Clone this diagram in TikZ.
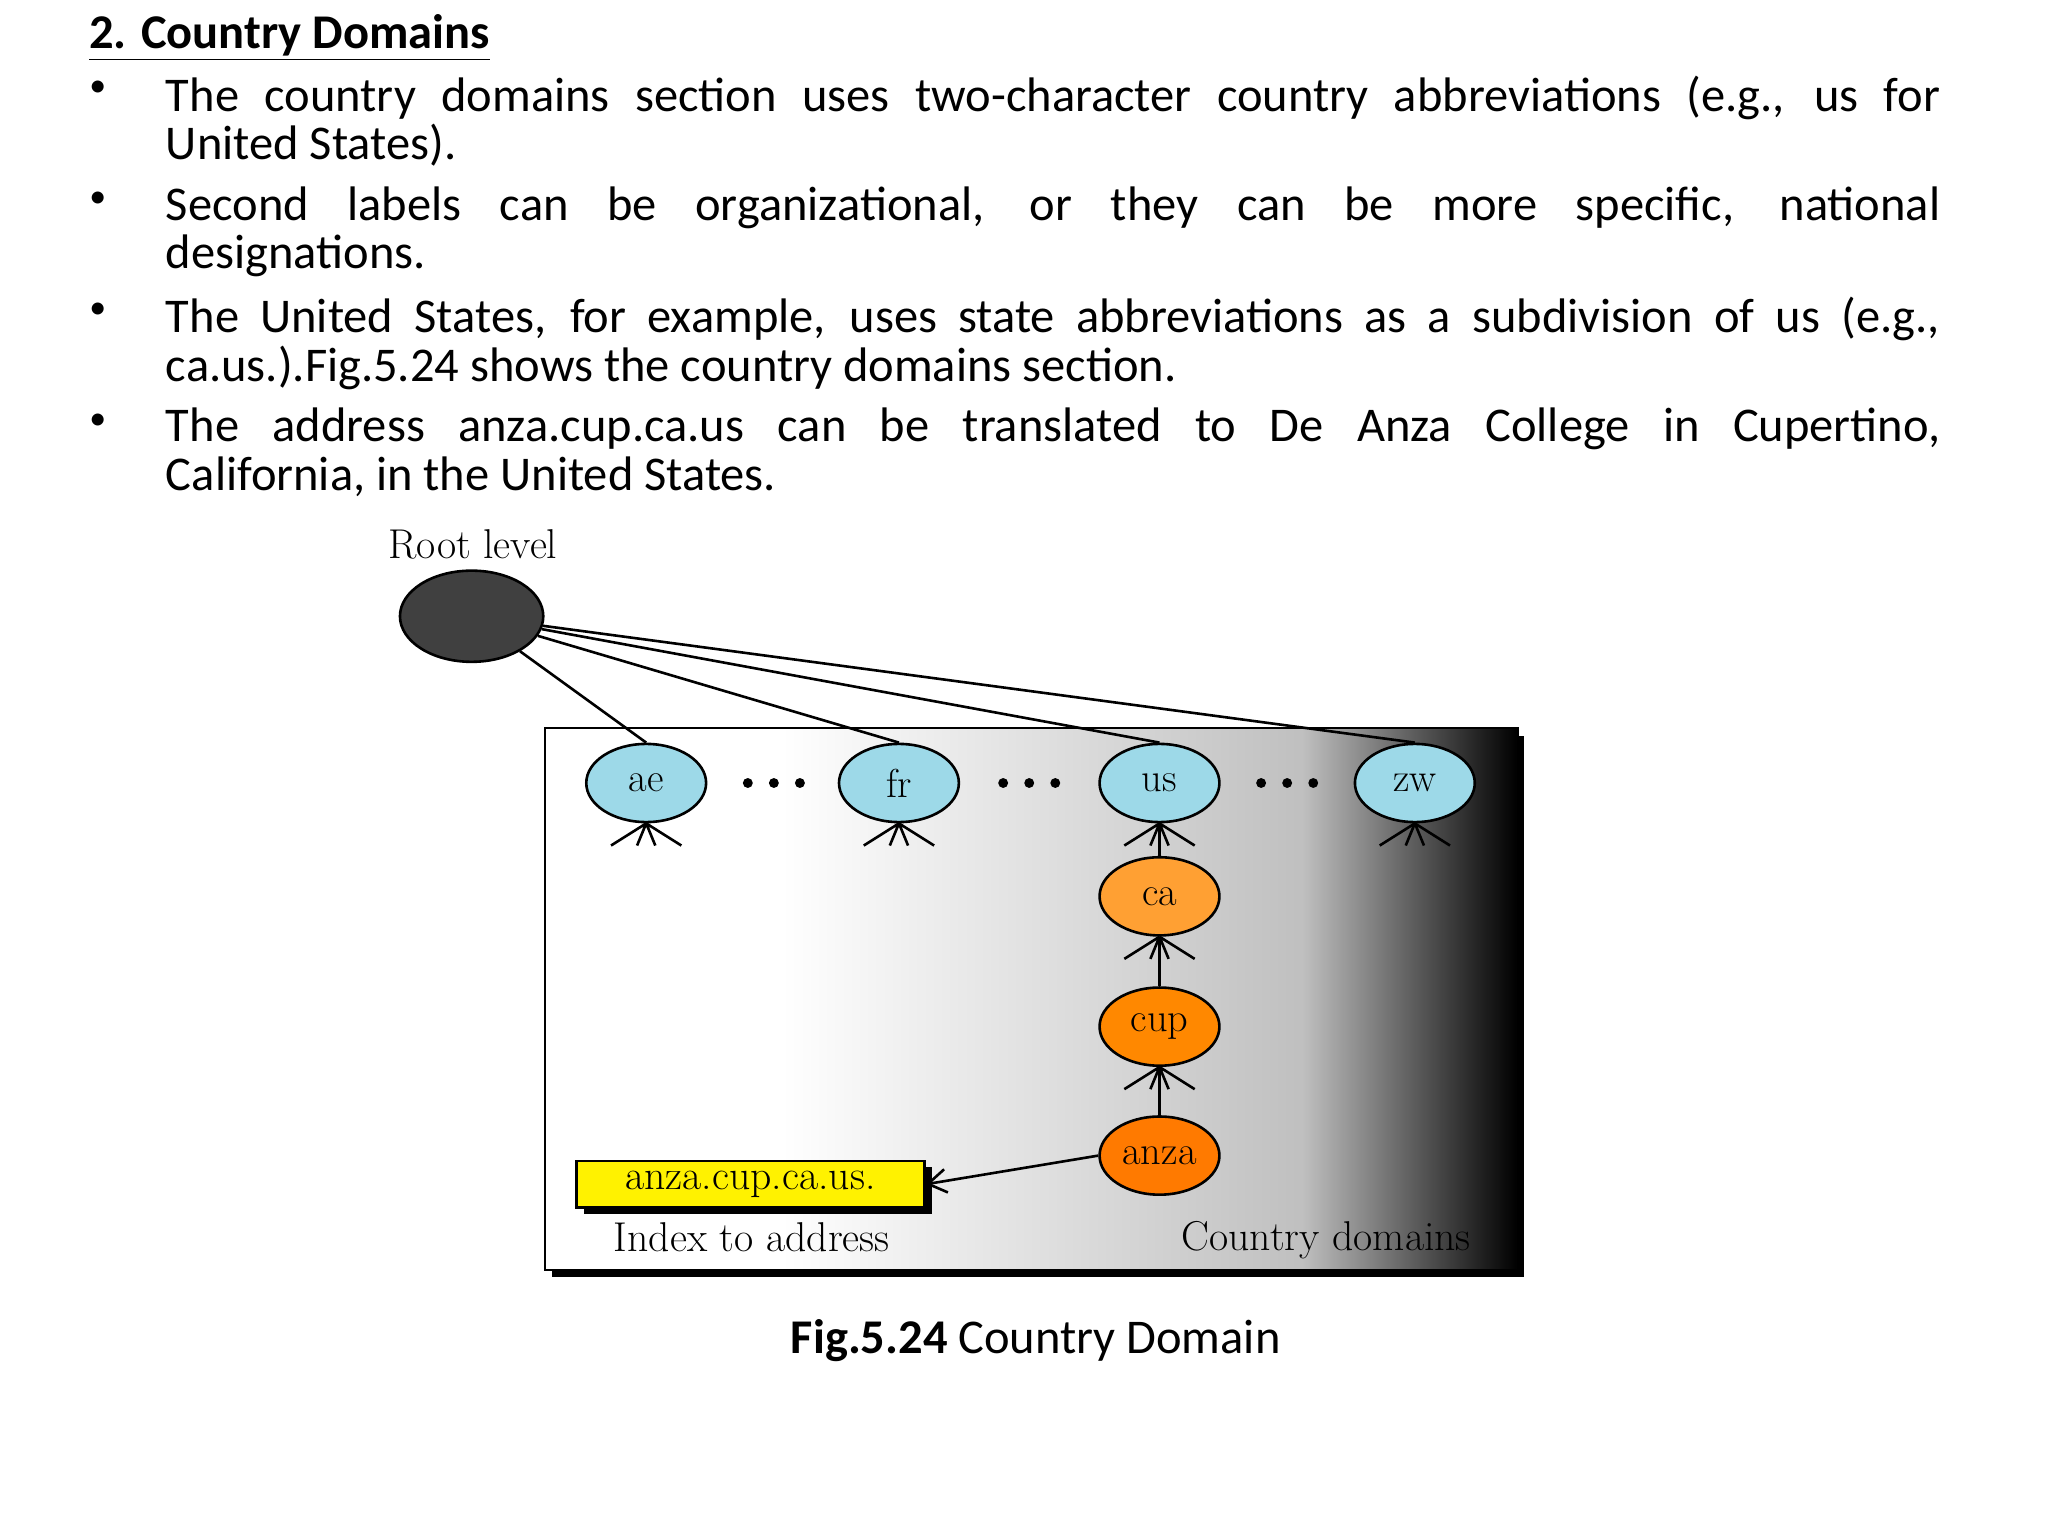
\documentclass[tikz,border=0pt]{standalone}
\usepackage{fontspec}
\setmainfont{Carlito}
\newfontfamily\diag{Latin Modern Roman}
\usetikzlibrary{arrows.meta,shapes.geometric}
\tikzset{
 nd/.style={ellipse,draw,line width=1pt,minimum width=46pt,minimum height=30pt,inner sep=0pt,font=\diag\fontsize{15.5}{15.5}\selectfont},
 bul/.style={anchor=north west,text width=681pt,align=justify,inner sep=0pt,font=\fontsize{18.6}{18.5}\selectfont},
 dot/.style={anchor=north,inner sep=0pt,font=\fontsize{13}{18.5}\selectfont},
 ln/.style={line width=1pt},
 lab/.style={font=\diag\fontsize{16}{16}\selectfont},
}
\definecolor{lb}{HTML}{9DD9E8}
\definecolor{or1}{HTML}{FFA033}
\definecolor{or2}{HTML}{FF8800}
\newcommand\myfan[1]{\draw[ln] (#1) -- ++(-27,17) (#1) -- ++(27,17) (#1) -- ++(-7,17) (#1) -- ++(7,17);}
\begin{document}
\begin{tikzpicture}[x=0.5pt,y=-0.5pt]
\useasboundingbox (0,0) rectangle (1572,1179);
\node[anchor=base west,inner sep=0pt,font=\bfseries\fontsize{18.6}{18}\selectfont] (title) at (68,37) {\underline{2. Country Domains}};
\foreach \y/\t [count=\i] in {58/{The country domains section uses two-character country abbreviations (e.g., us for\linebreak United States).},
 143/{Second labels can be organizational, or they can be more specific, national\linebreak designations.},
 228/{The United States, for example, uses state abbreviations as a subdivision of us (e.g.,\linebreak ca.us.).Fig.5.24 shows the country domains section.},
 313/{The address anza.cup.ca.us can be translated to De Anza College in Cupertino,\linebreak California, in the United States.}}{
 \node[dot] (d\i) at (75,\y+4) {•};
 \node[bul] (b\i) at (127,\y) {\t};
}
% box
\fill[black] (424,565) rectangle (1170,980);
\fill[white] (418,559) rectangle (1165,975);
\shade[left color=white,right color=black!25] (600,559) rectangle (1001,975);
\shade[left color=black!25,right color=black] (1000,559) rectangle (1165,975);
\draw[line width=0.8pt] (418,559) rectangle (1165,975);
\node[lab] (rl) at (363,418) {Root level};
\node[ellipse,draw,line width=1pt,fill=black!75,minimum width=55pt,minimum height=35pt] (root) at (362,473) {};
\foreach \n/\x in {ae/496,fr/690,us/890,zw/1086}{
 \node[nd,fill=lb] (\n) at (\x,601) {\n};
 \draw[ln] (root) -- (\n.north);
}
\foreach \x in {594,790,988}{
 \foreach \dx in {-20,0,20} \fill (\x+\dx,601) circle (3.8);
}
\node[nd,fill=or1] (ca) at (890,688) {ca};
\node[nd,fill=or2] (cup) at (890,788) {cup};
\node[nd,fill=or2!90!red] (anza) at (890,887) {anza};
\myfan{ae.south}\myfan{fr.south}\myfan{us.south}\myfan{zw.south}
\myfan{ca.south}\myfan{cup.south}
\draw[ln] (ca) -- (us); \draw[ln] (cup) -- (ca); \draw[ln] (anza) -- (cup);
\fill[black] (448,896) rectangle (715,932);
\node[draw,line width=1pt,fill=yellow,minimum width=133.5pt,minimum height=18pt,inner sep=0pt,lab] (idx) at (576,909) {anza.cup.ca.us.};
\draw[ln,-{Straight Barb[length=7pt,width=9pt]}] (anza.west) -- (idx.east);
\node[lab] (il) at (577,950) {Index to address};
\node[lab] (cd) at (1018,952) {Country domains};
\node[font=\fontsize{18.6}{18}\selectfont] (cap) at (795,1029) {\textbf{Fig.5.24} Country Domain};
\end{tikzpicture}
\end{document}
